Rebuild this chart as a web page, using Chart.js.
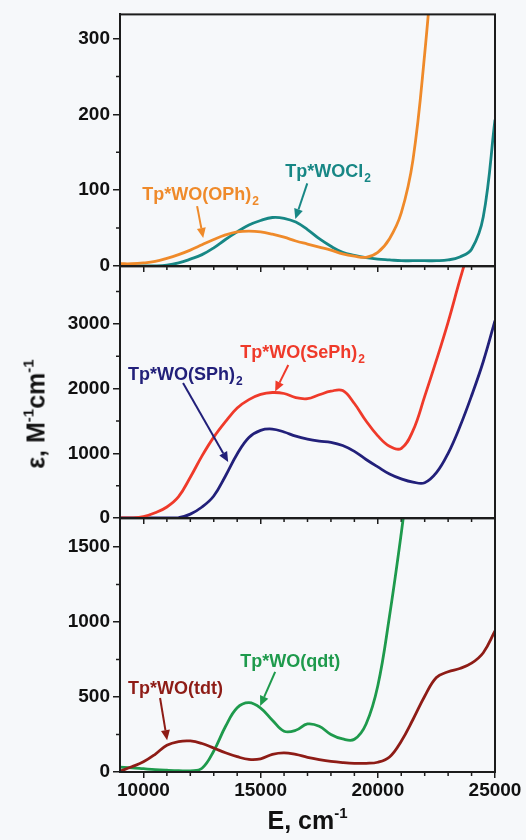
<!DOCTYPE html>
<html>
<head>
<meta charset="utf-8">
<script src="https://cdn.jsdelivr.net/npm/chart.js@4.4.1/dist/chart.umd.min.js"></script>
<style>
    body { margin: 0; background: #f6f8fa; }
    #fig {
        position: relative;
        width: 526px;
        height: 840px;
        background: #f6f8fa;
        font-family: "Liberation Sans", Arial, sans-serif;
        color: #111;
        overflow: hidden;
    }
    #fig canvas { position: absolute; left: 0; }
    .ytitle {
        position: absolute;
        left: 36px;
        top: 414px;
        transform: translate(-50%, -50%) rotate(-90deg);
        font-weight: bold;
        font-size: 25px;
        white-space: nowrap;
    }
    .xtitle {
        position: absolute;
        left: 120px;
        width: 375px;
        top: 806px;
        text-align: center;
        font-weight: bold;
        font-size: 25px;
        white-space: nowrap;
    }
    sup { font-size: 0.6em; line-height: 0; vertical-align: 0.75em; }
</style>
</head>
<body>
<div id="fig">
    <canvas id="panelTop" width="526" height="282" style="top:0px"></canvas>
    <canvas id="panelMid" width="526" height="282" style="top:252px"></canvas>
    <canvas id="panelBot" width="526" height="336" style="top:504px"></canvas>
    <div class="ytitle">ε, M<sup>-1</sup>cm<sup>-1</sup></div>
    <div class="xtitle">E, cm<sup>-1</sup></div>
</div>
<script>
// photon energy, cm-1
const energy = [
    9000, 9500, 10000, 10500, 11000, 11500, 12000, 12500, 13000, 13500, 14000,
    14500, 15000, 15500, 16000, 16500, 17000, 17500, 18000, 18500, 19000, 19500,
    20000, 20500, 21000, 21500, 22000, 22500, 23000, 23500, 24000, 24500, 25000,
];

// extinction coefficients, M-1 cm-1
const ophValues = [
    3, 3, 4, 6, 10, 15, 21, 28, 35, 41, 45, 46, 45, 42, 38, 33, 29, 25, 21, 16, 13, 11.5,
    18, 36, 70, 140, 280, 460, null, null, null, null, null,
];
const cl2Values = [
    0, 0, 0, 0, 1, 4, 9, 15, 24, 35, 45, 54, 60, 64, 63, 58, 48, 36, 26, 18, 14, 11,
    9, 8, 7, 7, 7, 7, 8, 12, 22, 65, 193,
];
const sephValues = [
    0, 0, 20, 80, 170, 330, 630, 960, 1250, 1490, 1700, 1830, 1910, 1940, 1925, 1860,
    1845, 1905, 1960, 1970, 1770, 1500, 1270, 1110, 1075, 1350, 1880, 2440, 3030, 3680,
    4300, null, null,
];
const sphValues = [
    0, 0, 0, 0, 0, 5, 60, 170, 340, 650, 990, 1245, 1355, 1375, 1330, 1265, 1220, 1190,
    1170, 1120, 1030, 905, 790, 680, 605, 555, 545, 700, 1000, 1410, 1890, 2420, 3050,
];
const tdtValues = [
    5, 35, 68, 118, 178, 203, 207, 190, 160, 128, 102, 84, 88, 118, 128, 117, 98, 83,
    71, 63, 58, 58, 65, 100, 205, 350, 505, 630, 668, 690, 725, 795, 940,
];
const qdtValues = [
    32, 28, 22, 16, 12, 9, 8, 25, 140, 303, 428, 462, 426, 345, 272, 278, 320, 305,
    250, 220, 218, 320, 575, 1040, 1590, 2200, null, null, null, null, null, null, null,
];

// axis ticks
const xMajor = [10000, 15000, 20000, 25000];
const xMinor = [11000, 12000, 13000, 14000, 16000, 17000, 18000, 19000, 21000, 22000, 23000, 24000];
const topMajor = [0, 100, 200, 300];
const topMinor = [50, 150, 250];
const midMajor = [0, 1000, 2000, 3000];
const midMinor = [500, 1500, 2500, 3500];
const botMajor = [0, 500, 1000, 1500];
const botMinor = [250, 750, 1250];

const colors = {
    oph: "#ef8a2a",
    cl2: "#178785",
    seph: "#ef3a2a",
    sph: "#22207a",
    tdt: "#8e1c16",
    qdt: "#1e9a4c",
};

const axisColor = "#1c1c1c";
const labelFont = '"Liberation Sans", Arial, sans-serif';

function series(values, color) {
    return {
        data: energy.map((e, i) => ({ x: e, y: values[i] })),
        borderColor: color,
        borderWidth: 2.8,
        pointRadius: 0,
        fill: false,
        spanGaps: false,
        tension: 0.4,
    };
}

function drawArrow(ctx, x0, y0, x1, y1, color) {
    const ang = Math.atan2(y1 - y0, x1 - x0);
    const len = 10;
    const half = 4.5;
    const bx = x1 - len * Math.cos(ang);
    const by = y1 - len * Math.sin(ang);
    ctx.strokeStyle = color;
    ctx.fillStyle = color;
    ctx.lineWidth = 2;
    ctx.beginPath();
    ctx.moveTo(x0, y0);
    ctx.lineTo(bx, by);
    ctx.stroke();
    ctx.beginPath();
    ctx.moveTo(x1, y1);
    ctx.lineTo(bx + half * Math.sin(ang), by - half * Math.cos(ang));
    ctx.lineTo(bx - half * Math.sin(ang), by + half * Math.cos(ang));
    ctx.closePath();
    ctx.fill();
}

function makePanel(id, opts) {
    const decor = {
        id: "decor",
        afterDraw(chart) {
            const { ctx, chartArea: area, scales } = chart;
            ctx.save();
            // frame
            ctx.strokeStyle = axisColor;
            ctx.lineWidth = 2;
            ctx.strokeRect(area.left, area.top, area.right - area.left, area.bottom - area.top);
            // minor ticks
            ctx.lineWidth = 1.5;
            ctx.beginPath();
            opts.yMinor.forEach((v) => {
                const py = scales.y.getPixelForValue(v);
                ctx.moveTo(area.left - 4, py);
                ctx.lineTo(area.left, py);
            });
            xMinor.forEach((v) => {
                const px = scales.x.getPixelForValue(v);
                ctx.moveTo(px, area.bottom);
                ctx.lineTo(px, area.bottom + 4);
            });
            ctx.stroke();
            // labels with arrows
            opts.notes.forEach((n) => {
                const lx = scales.x.getPixelForValue(n.at[0]);
                const ly = scales.y.getPixelForValue(n.at[1]);
                ctx.fillStyle = n.color;
                ctx.textBaseline = "alphabetic";
                ctx.textAlign = "left";
                ctx.font = "bold 18px " + labelFont;
                ctx.fillText(n.text, lx, ly);
                if (n.sub) {
                    const w = ctx.measureText(n.text).width;
                    ctx.font = "bold 12px " + labelFont;
                    ctx.fillText(n.sub, lx + w + 1, ly + 5);
                }
                drawArrow(
                    ctx,
                    scales.x.getPixelForValue(n.from[0]),
                    scales.y.getPixelForValue(n.from[1]),
                    scales.x.getPixelForValue(n.to[0]),
                    scales.y.getPixelForValue(n.to[1]),
                    n.color
                );
            });
            ctx.restore();
        },
    };

    return new Chart(document.getElementById(id), {
        type: "line",
        data: { datasets: opts.datasets },
        plugins: [decor],
        options: {
            responsive: false,
            animation: false,
            devicePixelRatio: 1,
            layout: { padding: { top: opts.padTop, right: 31, left: 0, bottom: 0 } },
            plugins: { legend: { display: false }, tooltip: { enabled: false } },
            scales: {
                x: {
                    type: "linear",
                    min: 9000,
                    max: 25000,
                    afterBuildTicks: (axis) => {
                        axis.ticks = xMajor.map((v) => ({ value: v }));
                    },
                    afterFit: (axis) => {
                        axis.height = opts.xHeight;
                    },
                    grid: { drawOnChartArea: false, tickLength: 6, color: axisColor, lineWidth: 1.5 },
                    border: { color: axisColor, width: 2 },
                    ticks: {
                        display: opts.xLabels,
                        color: "#111",
                        padding: 1,
                        maxRotation: 0,
                        font: { family: labelFont, size: 19, weight: "bold" },
                        callback: (v) => String(v),
                    },
                },
                y: {
                    min: 0,
                    max: opts.yMax,
                    afterBuildTicks: (axis) => {
                        axis.ticks = opts.yMajor.map((v) => ({ value: v }));
                    },
                    afterFit: (axis) => {
                        axis.width = 120;
                    },
                    grid: { drawOnChartArea: false, tickLength: 7, color: axisColor, lineWidth: 1.5 },
                    border: { color: axisColor, width: 2 },
                    ticks: {
                        color: "#111",
                        padding: 3,
                        font: { family: labelFont, size: 19, weight: "bold" },
                        callback: (v) => String(v),
                    },
                },
            },
        },
    });
}

makePanel("panelTop", {
    padTop: 13,
    xHeight: 16,
    xLabels: false,
    yMax: 332,
    yMajor: topMajor,
    yMinor: topMinor,
    datasets: [series(ophValues, colors.oph), series(cl2Values, colors.cl2)],
    notes: [
        { text: "Tp*WO(OPh)", sub: "2", color: colors.oph, at: [9950, 87], from: [12290, 79], to: [12550, 37] },
        { text: "Tp*WOCl", sub: "2", color: colors.cl2, at: [16050, 117], from: [16990, 109], to: [16480, 62] },
    ],
});

makePanel("panelMid", {
    padTop: 14,
    xHeight: 16,
    xLabels: false,
    yMax: 3890,
    yMajor: midMajor,
    yMinor: midMinor,
    datasets: [series(sephValues, colors.seph), series(sphValues, colors.sph)],
    notes: [
        { text: "Tp*WO(SePh)", sub: "2", color: colors.seph, at: [14130, 2474], from: [16180, 2366], to: [15620, 1955] },
        { text: "Tp*WO(SPh)", sub: "2", color: colors.sph, at: [9340, 2134], from: [11690, 2088], to: [13615, 866] },
    ],
});

makePanel("panelBot", {
    padTop: 14,
    xHeight: 68,
    xLabels: true,
    yMax: 1690,
    yMajor: botMajor,
    yMinor: botMinor,
    datasets: [series(tdtValues, colors.tdt), series(qdtValues, colors.qdt)],
    notes: [
        { text: "Tp*WO(qdt)", color: colors.qdt, at: [14130, 700], from: [15620, 667], to: [14980, 440] },
        { text: "Tp*WO(tdt)", color: colors.tdt, at: [9340, 520], from: [10710, 493], to: [11010, 212] },
    ],
});
</script>
</body>
</html>
